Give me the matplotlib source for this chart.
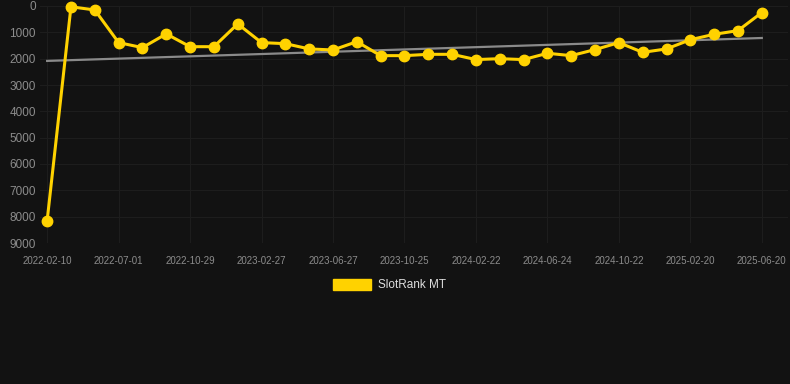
import matplotlib
matplotlib.use("Agg")
import matplotlib.pyplot as plt
from matplotlib.patches import Rectangle

# SlotRank MT positions over time (lower is better)
ranks = [8150, 30, 150, 1390, 1580, 1060, 1545, 1545, 680, 1390,
         1430, 1630, 1670, 1355, 1885, 1885, 1835, 1835, 2035, 2000,
         2035, 1795, 1885, 1655, 1390, 1760, 1630, 1280, 1075, 935, 250]
tick_labels = ["2022-02-10", "2022-07-01", "2022-10-29", "2023-02-27",
               "2023-06-27", "2023-10-25", "2024-02-22", "2024-06-24",
               "2024-10-22", "2025-02-20", "2025-06-20"]
trend_ends = [2085, 1215]
y_ticks = [0, 1000, 2000, 3000, 4000, 5000, 6000, 7000, 8000, 9000]

bg = "#121212"
gold = "#FFD200"

W, H = 790, 384
fig = plt.figure(figsize=(W / 100, H / 100), dpi=100, facecolor=bg)
ax = fig.add_axes([40 / W, (H - 243) / H, 748 / W, 237 / H], facecolor=bg)

x = list(range(len(ranks)))
ax.plot([x[0], x[-1]], trend_ends, color="#8a8a8a", lw=1.6, zorder=2)
ax.plot(x, ranks, color=gold, lw=2.2, marker="o", markersize=7.5,
        zorder=3, clip_on=False)

ax.set_ylim(9000, 0)
ax.set_xlim(-0.3, 31.1)
ax.set_yticks(y_ticks)
ax.set_yticklabels([str(v) for v in y_ticks])
ax.set_xticks(x[::3])
ax.set_xticklabels(tick_labels)

ax.grid(True, color="#1d1d1d", lw=0.8)
ax.set_axisbelow(True)
for s in ax.spines.values():
    s.set_visible(False)
ax.tick_params(axis="y", length=0, pad=3, labelsize=8.5, labelcolor="#8c8c8c")
ax.tick_params(axis="x", length=0, pad=9, labelsize=7, labelcolor="#8c8c8c")
for lab in ax.get_xticklabels() + ax.get_yticklabels():
    lab.set_fontfamily("Liberation Sans")

# legend
fig.patches.append(Rectangle((333 / W, (H - 290) / H), 38 / W, 11 / H,
                             transform=fig.transFigure, color=gold))
fig.text(378 / W, (H - 285) / H, "SlotRank MT", color="#dddddd",
         fontsize=8.5, family="Liberation Sans", va="center", ha="left")

fig.savefig("out.png", dpi=100, facecolor=bg)
